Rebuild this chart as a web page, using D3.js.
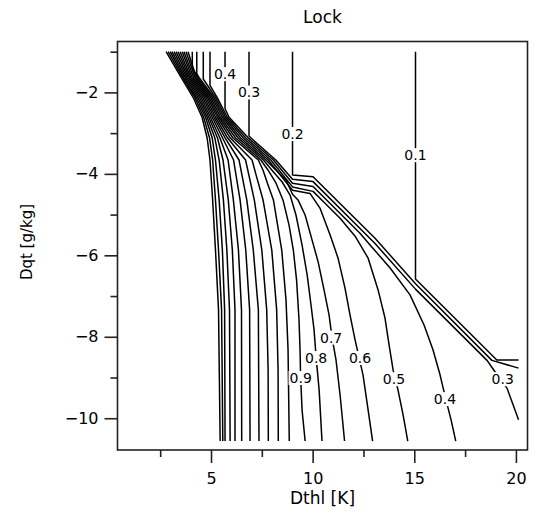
<!DOCTYPE html>
<html><head><meta charset="utf-8">
<script src="https://cdn.jsdelivr.net/npm/d3@7"></script>
<style>
body{margin:0;background:#fff}
svg{display:block}
text{font-family:"DejaVu Sans",sans-serif;fill:#000}
</style>
</head><body>
<svg id="c" width="541" height="522"></svg>
<script>
const title = "Lock";
const xLabel = "Dthl [K]";
const yLabel = "Dqt [g/kg]";
const xMajorTicks = [5, 10, 15, 20];
const xMinorTicks = [2.5, 7.5, 12.5, 17.5];
const yMajorTicks = [-2, -4, -6, -8, -10];
const yMinorTicks = [-1, -3, -5, -7, -9];
const xDomain = [0.4, 20.57];
const yDomain = [-10.78, -0.75];

const contourLevels = [0.1,0.2,0.3,0.4,0.5,0.6,0.7,0.8,0.9,1.0,1.1,1.2,1.3,1.4,1.5,1.6,1.7,1.8,1.9,2.0];

const c01 = [[15.06,-1.0],[15.06,-6.58],[19.06,-8.57],[20.13,-8.57]];
const c02 = [[9.01,-1.0],[9.01,-4.03],[10.02,-4.07],[13.07,-5.58],[15.06,-6.70],[18.82,-8.58],[20.13,-8.77]];
const c03 = [[6.87,-1.0],[6.87,-3.07],[6.97,-3.12],[8.19,-3.66],[9.01,-4.13],[10.02,-4.19],[13.07,-5.71],[15.06,-6.83],[18.58,-8.58],[18.97,-8.86],[19.56,-9.26],[20.13,-10.04]];
const c04 = [[5.69,-1.0],[5.69,-2.40],[5.89,-2.61],[6.84,-3.12],[8.07,-3.66],[9.01,-4.23],[10.02,-4.31],[12.33,-5.46],[12.92,-5.80],[13.81,-6.31],[14.79,-6.97],[15.48,-7.71],[15.92,-8.32],[16.27,-8.94],[16.56,-9.55],[16.81,-10.04],[17.04,-10.56]];
const c05 = [[4.95,-1.0],[4.95,-1.83],[5.30,-2.12],[5.80,-2.61],[6.71,-3.12],[7.94,-3.66],[9.01,-4.32],[10.02,-4.43],[10.61,-4.72],[11.35,-5.09],[12.09,-5.53],[12.73,-6.07],[13.22,-6.85],[13.56,-7.54],[13.76,-8.20],[13.96,-8.82],[14.20,-9.31],[14.45,-9.92],[14.68,-10.56]];
const c06 = [[4.62,-1.0],[4.62,-1.67],[5.22,-2.12],[5.72,-2.61],[6.59,-3.12],[7.82,-3.66],[9.01,-4.40],[9.87,-4.48],[10.36,-4.84],[10.86,-5.50],[11.25,-6.07],[11.59,-6.80],[11.84,-7.47],[12.09,-8.08],[12.28,-8.50],[12.48,-8.94],[12.73,-9.80],[12.95,-10.56]];
const c07 = [[4.30,-1.0],[4.30,-1.54],[4.41,-1.63],[5.14,-2.12],[5.64,-2.61],[6.46,-3.12],[7.70,-3.66],[8.20,-3.91],[8.69,-4.15],[9.01,-4.50],[9.28,-4.64],[9.63,-5.01],[9.97,-5.62],[10.27,-6.16],[10.56,-6.85],[10.81,-7.47],[10.95,-8.01],[11.15,-8.57],[11.35,-9.43],[11.57,-10.56]];
const c08 = [[4.08,-1.0],[4.08,-1.38],[4.34,-1.63],[5.06,-2.12],[5.56,-2.61],[6.34,-3.12],[7.58,-3.66],[8.00,-3.91],[8.50,-4.20],[8.89,-4.52],[9.18,-5.01],[9.48,-5.75],[9.73,-6.48],[9.92,-7.22],[10.07,-7.83],[10.17,-8.50],[10.32,-9.31],[10.46,-10.56]];
const c09 = [[3.87,-1.0],[4.27,-1.63],[4.98,-2.12],[5.47,-2.61],[6.21,-3.12],[7.45,-3.66],[7.81,-3.91],[8.20,-4.23],[8.54,-4.64],[8.84,-5.26],[9.05,-5.87],[9.21,-6.61],[9.33,-7.59],[9.38,-8.32],[9.41,-9.01],[9.48,-9.80],[9.63,-10.56]];
const c10 = [[3.77,-1.0],[4.21,-1.63],[4.90,-2.12],[5.39,-2.61],[6.08,-3.12],[7.33,-3.66],[7.56,-3.91],[7.81,-4.28],[8.07,-4.64],[8.48,-5.87],[8.69,-7.10],[8.79,-8.32],[8.85,-10.56]];
const c11 = [[3.67,-1.0],[4.14,-1.63],[4.83,-2.12],[5.31,-2.61],[5.95,-3.12],[7.02,-3.66],[7.22,-4.03],[7.56,-4.64],[7.99,-5.87],[8.23,-7.34],[8.30,-8.82],[8.31,-10.56]];
const c12 = [[3.58,-1.0],[4.07,-1.63],[4.75,-2.12],[5.22,-2.61],[5.82,-3.12],[6.70,-3.66],[7.13,-4.64],[7.50,-5.87],[7.74,-7.34],[7.81,-8.82],[7.82,-10.56]];
const c13 = [[3.48,-1.0],[4.00,-1.63],[4.67,-2.12],[5.14,-2.61],[5.70,-3.12],[6.38,-3.66],[6.76,-4.64],[7.08,-5.87],[7.33,-7.34],[7.36,-10.56]];
const c14 = [[3.38,-1.0],[3.94,-1.63],[4.59,-2.12],[5.06,-2.61],[5.57,-3.12],[6.11,-3.66],[6.43,-4.64],[6.71,-5.87],[6.90,-7.34],[6.92,-10.56]];
const c15 = [[3.28,-1.0],[3.87,-1.63],[4.51,-2.12],[4.97,-2.61],[5.44,-3.12],[5.84,-3.66],[6.10,-4.64],[6.35,-5.87],[6.50,-7.34],[6.51,-10.56]];
const c16 = [[3.18,-1.0],[3.80,-1.63],[4.43,-2.12],[4.89,-2.61],[5.32,-3.12],[5.59,-3.66],[5.85,-4.64],[6.05,-5.87],[6.18,-7.34],[6.18,-10.56]];
const c17 = [[3.08,-1.0],[3.73,-1.63],[4.35,-2.12],[4.81,-2.61],[5.19,-3.12],[5.40,-3.66],[5.61,-4.64],[5.78,-5.87],[5.91,-7.34],[5.94,-10.56]];
const c18 = [[2.99,-1.0],[3.66,-1.63],[4.27,-2.12],[4.73,-2.61],[5.06,-3.12],[5.22,-3.66],[5.40,-4.64],[5.56,-5.87],[5.67,-7.34],[5.69,-10.56]];
const c19 = [[2.89,-1.0],[3.60,-1.63],[4.20,-2.12],[4.64,-2.61],[4.93,-3.12],[5.08,-3.66],[5.22,-4.64],[5.37,-5.87],[5.52,-7.34],[5.58,-10.56]];
const c20 = [[2.79,-1.0],[3.53,-1.63],[4.12,-2.12],[4.56,-2.61],[4.81,-3.12],[4.95,-3.66],[5.08,-4.64],[5.22,-5.87],[5.37,-7.34],[5.45,-10.56]];

const labelText = ["0.1","0.2","0.3","0.4","0.3","0.4","0.5","0.6","0.7","0.8","0.9"];
const labelX = [15.06, 9.01, 6.87, 5.69, 19.35, 16.51, 14.0, 12.33, 10.91, 10.17, 9.41];
const labelY = [-3.54, -3.02, -2.0, -1.55, -9.04, -9.53, -9.04, -8.52, -8.02, -8.52, -9.01];

const contourPoints = [c01,c02,c03,c04,c05,c06,c07,c08,c09,c10,c11,c12,c13,c14,c15,c16,c17,c18,c19,c20];
const contours = contourLevels.map((lv, i) => ({level: lv, pts: contourPoints[i]}));

const svg = d3.select("#c");
const L = 117.5, R = 527.5, T = 41.5, B = 450;
const x = d3.scaleLinear().domain(xDomain).range([L, R]);
const y = d3.scaleLinear().domain(yDomain).range([B, T]);

const line = d3.line().x(d => x(d[0])).y(d => y(d[1]));
svg.append("g").selectAll("path").data(contours).join("path")
  .attr("d", d => line(d.pts))
  .attr("fill", "none").attr("stroke", "#000").attr("stroke-width", 1.5)
  .attr("stroke-linejoin", "round");

// contour labels
const lg = svg.append("g");
labelText.forEach((t, i) => {
  const g = lg.append("g").attr("transform", `translate(${x(labelX[i])},${y(labelY[i])})`);
  const r = g.append("rect").attr("fill", "#fff");
  const tx = g.append("text").attr("text-anchor", "middle").attr("dy", "0.36em")
    .style("font-size", "14px").text(t);
  const b = tx.node().getBBox();
  r.attr("x", b.x - 1).attr("y", b.y + 1).attr("width", b.width + 2).attr("height", b.height - 2);
});

// frame
svg.append("rect").attr("x", L).attr("y", T).attr("width", R - L).attr("height", B - T)
  .attr("fill", "none").attr("stroke", "#222").attr("stroke-width", 1.6);

function styleAxis(g) {
  g.select(".domain").remove();
  g.selectAll(".tick line").attr("stroke", "#222").attr("stroke-width", 1.6);
  g.selectAll(".tick text").attr("fill", "#000").style("font-family", '"DejaVu Sans",sans-serif');
}
const fmt = d => (d < 0 ? "\u2212" : "") + Math.abs(d);

svg.append("g").attr("transform", `translate(0,${B})`)
  .call(d3.axisBottom(x).tickValues(xMajorTicks).tickSize(13).tickPadding(10).tickFormat(fmt))
  .call(styleAxis).selectAll("text").style("font-size", "16px");
svg.append("g").attr("transform", `translate(0,${B})`)
  .call(d3.axisBottom(x).tickValues(xMinorTicks).tickSize(7).tickFormat(""))
  .call(styleAxis);
svg.append("g").attr("transform", `translate(${L},0)`)
  .call(d3.axisLeft(y).tickValues(yMajorTicks).tickSize(13).tickPadding(6).tickFormat(fmt))
  .call(styleAxis).selectAll("text").style("font-size", "16px");
svg.append("g").attr("transform", `translate(${L},0)`)
  .call(d3.axisLeft(y).tickValues(yMinorTicks).tickSize(7).tickFormat(""))
  .call(styleAxis);

// titles
svg.append("text").attr("x", (L + R) / 2).attr("y", 23).attr("text-anchor", "middle")
  .style("font-size", "17px").text(title);
svg.append("text").attr("x", (L + R) / 2).attr("y", 504).attr("text-anchor", "middle")
  .style("font-size", "17px").text(xLabel);
svg.append("text").attr("transform", "translate(32,242) rotate(-90)").attr("text-anchor", "middle")
  .style("font-size", "15px").text(yLabel);
</script>
</body></html>
